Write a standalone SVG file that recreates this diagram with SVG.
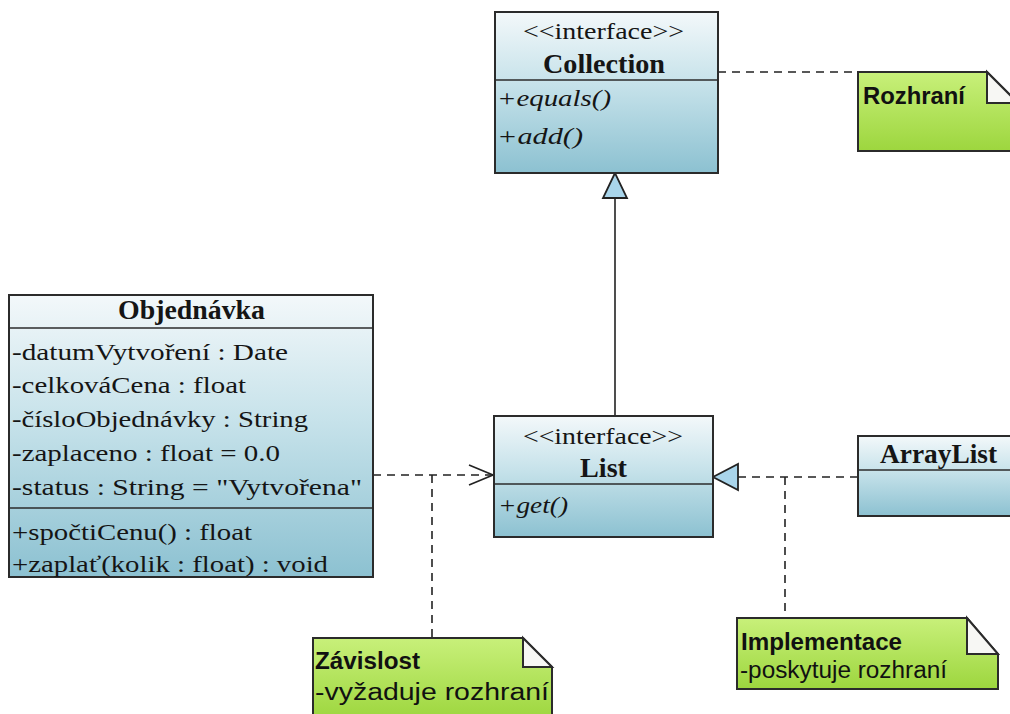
<svg xmlns="http://www.w3.org/2000/svg" width="1010" height="714" viewBox="0 0 1010 714">
  <defs>
    <linearGradient id="classFill" x1="0" y1="0" x2="0" y2="1">
      <stop offset="0" stop-color="#f3f8fa"/>
      <stop offset="0.45" stop-color="#c6e2ea"/>
      <stop offset="1" stop-color="#8cc1d1"/>
    </linearGradient>
    <linearGradient id="noteFill" x1="0" y1="0" x2="0" y2="1">
      <stop offset="0" stop-color="#c8f07a"/>
      <stop offset="1" stop-color="#9dd63e"/>
    </linearGradient>
    <marker id="openArrow" viewBox="0 0 26 22" refX="25" refY="11" markerWidth="26" markerHeight="22" markerUnits="userSpaceOnUse" orient="auto">
      <path d="M1,1 L25,11 L1,21" fill="none" stroke="#222" stroke-width="1.6"/>
    </marker>
  </defs>
  <style>
    .box { stroke: #2b2b2b; stroke-width: 2; fill: url(#classFill); }
    .sep { stroke: #2b2b2b; stroke-width: 1.6; }
    .cls { font-family: "Liberation Serif", "Times New Roman", serif; font-size: 24px; fill: #151515; }
    .name { font-weight: bold; font-size: 27px; }
    .op { font-style: italic; }
    .note { stroke: #2b2b2b; stroke-width: 2; fill: url(#noteFill); }
    .fold { stroke: #2b2b2b; stroke-width: 2; fill: #f7f7f4; stroke-linejoin: miter; }
    .ntxt { font-family: "Liberation Sans", Arial, sans-serif; font-size: 23px; fill: #111; }
    .ntitle { font-weight: bold; }
    .dash { stroke: #222; stroke-width: 1.6; fill: none; stroke-dasharray: 8 6; }
    .solid { stroke: #222; stroke-width: 1.6; fill: none; }
    .tri { stroke: #222; stroke-width: 1.8; fill: #a9d5eb; stroke-linejoin: miter; }
  </style>

  <rect width="1010" height="714" fill="#ffffff"/>

  <!-- connectors -->
  <g id="connectors">
    <!-- Collection to Rozhraní note -->
    <line class="dash" x1="718" y1="72" x2="858" y2="72"/>
    <!-- List generalizes Collection -->
    <line class="solid" x1="615" y1="198" x2="615" y2="416"/>
    <polygon class="tri" points="615,173 603,198 627,198"/>
    <!-- Objednávka depends on List -->
    <line class="dash" x1="373" y1="475" x2="493" y2="475" marker-end="url(#openArrow)"/>
    <line class="dash" x1="432" y1="475" x2="432" y2="638"/>
    <!-- ArrayList realizes List -->
    <line class="dash" x1="738" y1="477" x2="858" y2="477"/>
    <polygon class="tri" points="713,477 738,464 738,490"/>
    <line class="dash" x1="785" y1="477" x2="785" y2="618"/>
  </g>

  <!-- Collection interface -->
  <g id="collection">
    <rect class="box" x="495" y="12" width="223" height="161"/>
    <line class="sep" x1="495" y1="80" x2="718" y2="80"/>
    <text class="cls" x="523" y="39" textLength="161" lengthAdjust="spacingAndGlyphs">&lt;&lt;interface&gt;&gt;</text>
    <text class="cls name" x="543" y="73" textLength="122" lengthAdjust="spacingAndGlyphs">Collection</text>
    <text class="cls op" x="497" y="106" textLength="114" lengthAdjust="spacingAndGlyphs">+equals()</text>
    <text class="cls op" x="497" y="144" textLength="86" lengthAdjust="spacingAndGlyphs">+add()</text>
  </g>

  <!-- Objednávka class -->
  <g id="objednavka">
    <rect class="box" x="9" y="295" width="364" height="282"/>
    <line class="sep" x1="9" y1="328" x2="373" y2="328"/>
    <line class="sep" x1="9" y1="508" x2="373" y2="508"/>
    <text class="cls name" x="118" y="319" textLength="147" lengthAdjust="spacingAndGlyphs">Objednávka</text>
    <text class="cls" x="12" y="360" textLength="276" lengthAdjust="spacingAndGlyphs">-datumVytvoření : Date</text>
    <text class="cls" x="12" y="393" textLength="234" lengthAdjust="spacingAndGlyphs">-celkováCena : float</text>
    <text class="cls" x="12" y="427" textLength="296" lengthAdjust="spacingAndGlyphs">-čísloObjednávky : String</text>
    <text class="cls" x="12" y="461" textLength="268" lengthAdjust="spacingAndGlyphs">-zaplaceno : float = 0.0</text>
    <text class="cls" x="12" y="495" textLength="350" lengthAdjust="spacingAndGlyphs">-status : String = "Vytvořena"</text>
    <text class="cls" x="12" y="540" textLength="240" lengthAdjust="spacingAndGlyphs">+spočtiCenu() : float</text>
    <text class="cls" x="12" y="572" textLength="316" lengthAdjust="spacingAndGlyphs">+zaplať(kolik : float) : void</text>
  </g>

  <!-- List interface -->
  <g id="list">
    <rect class="box" x="494" y="416" width="219" height="121"/>
    <line class="sep" x1="494" y1="484" x2="713" y2="484"/>
    <text class="cls" x="523" y="444" textLength="160" lengthAdjust="spacingAndGlyphs">&lt;&lt;interface&gt;&gt;</text>
    <text class="cls name" x="580" y="477" textLength="47" lengthAdjust="spacingAndGlyphs">List</text>
    <text class="cls op" x="498" y="513" textLength="70" lengthAdjust="spacingAndGlyphs">+get()</text>
  </g>

  <!-- ArrayList class -->
  <g id="arraylist">
    <rect class="box" x="858" y="436" width="170" height="80"/>
    <line class="sep" x1="858" y1="470" x2="1028" y2="470"/>
    <text class="cls name" x="880" y="463" textLength="117" lengthAdjust="spacingAndGlyphs">ArrayList</text>
  </g>

  <!-- note: Rozhraní -->
  <g id="note-rozhrani">
    <path class="note" d="M858,72 L987,72 L1018,103 L1018,151 L858,151 Z"/>
    <path class="fold" d="M987,72 L987,103 L1018,103 Z"/>
    <text class="ntxt ntitle" x="863" y="104" textLength="102" lengthAdjust="spacingAndGlyphs">Rozhraní</text>
  </g>

  <!-- note: Závislost -->
  <g id="note-zavislost">
    <path class="note" d="M313,638 L523,638 L552,667 L552,720 L313,720 Z"/>
    <path class="fold" d="M523,638 L523,667 L552,667 Z"/>
    <text class="ntxt ntitle" x="315" y="669" textLength="105" lengthAdjust="spacingAndGlyphs">Závislost</text>
    <text class="ntxt" x="315" y="700" textLength="234" lengthAdjust="spacingAndGlyphs">-vyžaduje rozhraní</text>
  </g>

  <!-- note: Implementace -->
  <g id="note-implementace">
    <path class="note" d="M737,618 L967,618 L998,654 L998,689 L737,689 Z"/>
    <path class="fold" d="M967,618 L967,654 L998,654 Z"/>
    <text class="ntxt ntitle" x="741" y="650" textLength="161" lengthAdjust="spacingAndGlyphs">Implementace</text>
    <text class="ntxt" x="740" y="678" textLength="207" lengthAdjust="spacingAndGlyphs">-poskytuje rozhraní</text>
  </g>
</svg>
